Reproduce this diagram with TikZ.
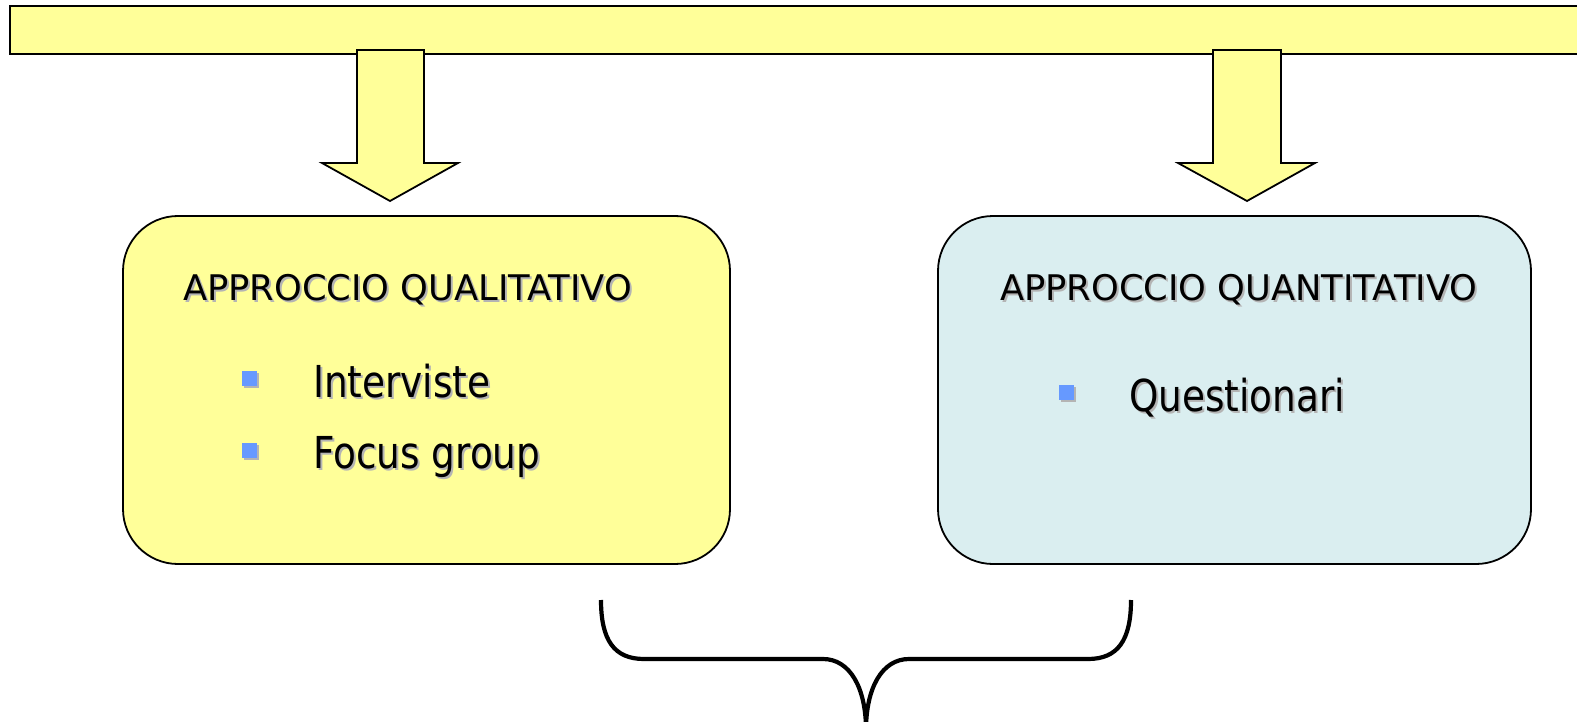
\documentclass[tikz,border=0pt]{standalone}
\usepackage{fontspec}
\setmainfont{DejaVu Sans}
\newfontfamily\itemfont[FakeStretch=0.85]{DejaVu Sans}
\usetikzlibrary{shadows,calc}
\definecolor{barY}{HTML}{FFFF99}
\definecolor{boxB}{HTML}{DAEEF0}
\definecolor{bulB}{HTML}{6699FF}
\definecolor{shad}{HTML}{B4B4B4}
\tikzset{
  thinline/.style={draw=black, line width=1.8pt, line join=miter},
  yellowfill/.style={thinline, fill=barY},
  boxbase/.style={thinline, rounded corners=55pt, inner sep=0pt},
  txt/.style={anchor=base west, inner sep=0pt, outer sep=0pt},
  titlefont/.style={font=\fontsize{35.3}{40}\selectfont},
  itemfnt/.style={font=\itemfont\fontsize{44}{52}\selectfont},
  bul/.style={minimum size=15pt, inner sep=0pt, fill=bulB,
    drop shadow={shadow xshift=2pt, shadow yshift=-2pt, fill=shad, opacity=1}},
  bracepath/.style={draw=black, line width=4.2pt}
}
\newcommand\shtxt[5]{%
  \node[txt,#4,text=shad] at ($(#1,#2)+(2,2)$) {#5};
  \node[txt,#4] (#3) at (#1,#2) {#5};}
\begin{document}
\begin{tikzpicture}[x=1pt,y=-1pt]
\clip (0,0) rectangle (1577,722);
\fill[white] (0,0) rectangle (1577,722);
% top bar
\path[yellowfill] (10,6) rectangle (1600,54);
\coordinate (bar) at (800,30);
% arrows
\path[yellowfill] (357,50) -- (424,50) -- (424,163) -- (458,163) -- (390,201)
  -- (322,163) -- (357,163) -- cycle;
\path[yellowfill] (1213,50) -- (1281,50) -- (1281,163) -- (1315,163) -- (1247,201)
  -- (1178,163) -- (1213,163) -- cycle;
% boxes
\node[boxbase, fill=barY, minimum width=607pt, minimum height=348pt] (qual) at (426.5,390) {};
\node[boxbase, fill=boxB, minimum width=593pt, minimum height=348pt] (quant) at (1234.5,390) {};
% titles
\shtxt{183}{300}{t1}{titlefont}{APPROCCIO QUALITATIVO}
\shtxt{1000}{300}{t2}{titlefont}{APPROCCIO QUANTITATIVO}
% bullets
\node[bul] (b1) at (249.5,378) {};
\node[bul] (b2) at (249.5,450) {};
\node[bul] (b3) at (1066.5,392.5) {};
\shtxt{313}{397}{i1}{itemfnt}{Interviste}
\shtxt{313}{468}{i2}{itemfnt}{Focus group}
\shtxt{1129}{411}{i3}{itemfnt}{Questionari}
% brace
\draw[bracepath] (601,600) .. controls (601,640) and (614,659) .. (644,659)
  -- (823,659) .. controls (850,659) and (866,688) .. (866,730);
\draw[bracepath] (1131,600) .. controls (1131,640) and (1118,659) .. (1088,659)
  -- (909,659) .. controls (882,659) and (866,688) .. (866,730);
\end{tikzpicture}
\end{document}
